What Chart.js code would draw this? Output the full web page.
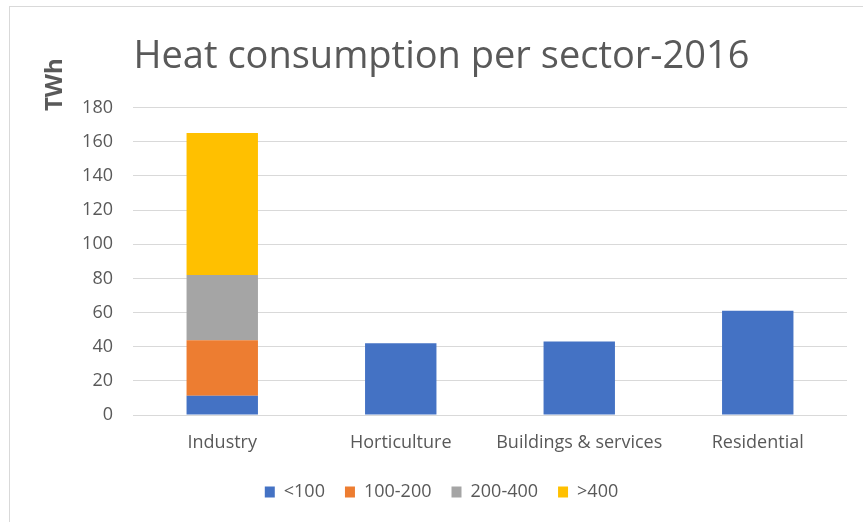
<!DOCTYPE html>
<html>
<head>
<meta charset="utf-8">
<script src="https://cdn.jsdelivr.net/npm/chart.js@4.4.1/dist/chart.umd.min.js"></script>
<style>
  html, body { margin: 0; padding: 0; background: #ffffff; }
  #wrap { position: relative; width: 863px; height: 522px; }
  #frame {
    position: absolute; left: 9px; top: 6px; right: 0; bottom: 0;
    border-top: 1px solid #d9d9d9; border-left: 1px solid #d9d9d9;
    pointer-events: none;
  }
</style>
</head>
<body>
<div id="wrap">
  <canvas id="myChart" width="863" height="522"></canvas>
  <div id="frame"></div>
</div>
<script>
// Sectors on the x axis
const sectors = ['Industry', 'Horticulture', 'Buildings & services', 'Residential'];

// Heat consumption (TWh) per temperature band
const below100 = [11.3, 42, 43, 61];
const from100to200 = [32.5, 0, 0, 0];
const from200to400 = [38.2, 0, 0, 0];
const above400 = [83.2, 0, 0, 0];

// Y axis ticks
const yMin = 0;
const yMax = 180;
const yStep = 20;

const textColor = '#595959';
const fontFamily = '"Open Sans", sans-serif';

// Function to build one stacked dataset
function makeDataset(label, values, color){
  return {
    label: label,
    data: values,
    backgroundColor: color,
    borderWidth: 0,
    barPercentage: 0.4,
    categoryPercentage: 1.0,
    stack: 'heat'
  };
}

// Plugin to write the unit above the y axis, rotated
const unitLabel = {
  id: 'unitLabel',
  afterDraw(chart) {
    const {ctx, chartArea} = chart;
    ctx.save();
    ctx.translate(chartArea.left - 78, chartArea.top - 23);
    ctx.rotate(-Math.PI / 2);
    ctx.font = 'bold 24px ' + fontFamily;
    ctx.fillStyle = textColor;
    ctx.textAlign = 'center';
    ctx.textBaseline = 'middle';
    ctx.fillText('TWh', 0, 0);
    ctx.restore();
  }
};

const data = {
  labels: sectors,
  datasets: [
    makeDataset('<100', below100, '#4472C4'),
    makeDataset('100-200', from100to200, '#ED7D31'),
    makeDataset('200-400', from200to400, '#A5A5A5'),
    makeDataset('>400', above400, '#FFC000'),
  ]
};

const config = {
  type: 'bar',
  data: data,
  plugins: [unitLabel],
  options: {
    responsive: false,
    animation: false,
    layout: {
      padding: { top: 6, right: 16, bottom: 11, left: 36 }
    },
    plugins: {
      title: {
        display: true,
        text: 'Heat consumption per sector-2016',
        color: textColor,
        font: { family: fontFamily, size: 38, weight: 'normal' },
        padding: { top: 28, bottom: 28 }
      },
      legend: {
        position: 'bottom',
        labels: {
          color: textColor,
          font: { family: fontFamily, size: 18 },
          boxWidth: 10,
          boxHeight: 11,
          padding: 20
        }
      },
      tooltip: { enabled: false }
    },
    scales: {
      x: {
        stacked: true,
        afterFit: (axis) => { axis.height = 48; },
        grid: { display: false, drawTicks: false },
        border: { display: false },
        ticks: {
          color: textColor,
          font: { family: fontFamily, size: 18 },
          padding: 17,
          maxRotation: 0
        }
      },
      y: {
        stacked: true,
        min: yMin,
        max: yMax,
        afterFit: (axis) => { axis.width = 97; },
        grid: { color: '#d9d9d9', drawTicks: false },
        border: { display: false },
        ticks: {
          stepSize: yStep,
          color: textColor,
          font: { family: fontFamily, size: 18 },
          padding: 20
        }
      }
    }
  }
};

const myChart = new Chart('myChart', config);
</script>
</body>
</html>
